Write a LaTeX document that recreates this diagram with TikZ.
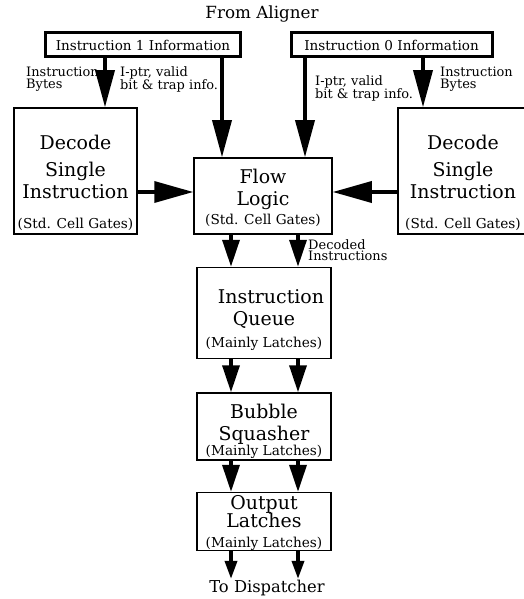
\documentclass[tikz,border=0pt]{standalone}
\usepackage{fontspec}
\setmainfont{DejaVu Serif}
\usetikzlibrary{arrows.meta,positioning}

\newcommand{\gatefont}{\fontsize{13.7}{14}\selectfont}

\tikzset{
  unitbox/.style={draw, line width=1.5bp, align=center, inner sep=0pt, font=\fontsize{19}{22}\selectfont},
  infobox/.style={draw, line width=3bp, minimum height=24bp, inner sep=0pt, font=\fontsize{13.6}{14}\selectfont},
  siglabel/.style={anchor=north west, align=left, inner sep=0pt, font=\fontsize{13}{12}\selectfont},
  bigarr/.style={line width=3.5bp, -{Triangle[length=37bp,width=19bp]}},
  sidearr/.style={line width=3.5bp, -{Triangle[length=39bp,width=21bp]}},
  midarr/.style={line width=3.5bp, -{Triangle[length=27bp,width=17bp]}},
  outarr/.style={line width=3.5bp, -{Triangle[length=18bp,width=12bp]}},
}

\begin{document}
\begin{tikzpicture}[x=1bp,y=-1bp]
  \useasboundingbox (0,0) rectangle (524,599);
  \clip (0,0) rectangle (524,599);

  %% inputs from the aligner
  \node[font=\fontsize{16.8}{17}\selectfont] (from) at (262,14) {From Aligner};
  \node[infobox, minimum width=194bp] (i1) at (143,45) {Instruction 1 Information};
  \node[infobox, minimum width=201bp] (i0) at (391.5,45) {Instruction 0 Information};

  %% decode and flow
  \node[unitbox, minimum width=123bp, minimum height=126bp] (dl) at (75.5,171)
    {\rule{0pt}{38bp}Decode\\[6bp]Single\\Instruction\\[8bp]{\gatefont (Std. Cell Gates)}};
  \node[unitbox, minimum width=130bp, minimum height=126bp] (dr) at (463,171)
    {\rule{0pt}{38bp}Decode\\[6bp]Single\\Instruction\\[8bp]{\gatefont (Std. Cell Gates)}};
  \node[unitbox, minimum width=138bp, minimum height=76bp] (flow) at (263,196)
    {\rule{0pt}{18bp}Flow\\Logic\\[-3bp]{\gatefont (Std. Cell Gates)}};

  %% queue and latches
  \node[unitbox, minimum width=134bp, minimum height=91bp] (iq) at (264,313)
    {\rule{0pt}{28bp}\hspace*{14bp}Instruction\\Queue\\{\gatefont (Mainly Latches)}};
  \node[unitbox, minimum width=134bp, minimum height=67bp] (bs) at (264,426.5)
    {\rule{0pt}{24bp}Bubble\\Squasher\\[-7bp]{\gatefont (Mainly Latches)}};
  \node[unitbox, minimum width=134bp, minimum height=57bp] (ol) at (264,521.5)
    {\rule{0pt}{17bp}Output\\[-4bp]Latches\\[-2bp]{\gatefont (Mainly Latches)}};
  \node[font=\fontsize{16.4}{17}\selectfont, inner sep=1bp] (to) at (267,588) {To Dispatcher};

  %% signal labels
  \node[siglabel] (bytesl) at (26,67) {Instruction\\Bytes};
  \node[siglabel] (ptrl) at (120,66) {I-ptr, valid\\bit \& trap info.};
  \node[siglabel] (ptrr) at (315,75) {I-ptr, valid\\bit \& trap info.};
  \node[siglabel] (bytesr) at (440,67) {Instruction\\Bytes};
  \node[siglabel] (dec) at (308,239) {Decoded\\Instructions};

  %% connectors
  \coordinate (xa) at (105,0);
  \coordinate (xb) at (222,0);
  \coordinate (xc) at (305,0);
  \coordinate (xd) at (423,0);
  \coordinate (xe) at (231,0);
  \coordinate (xf) at (298,0);
  \coordinate (yh) at (0,192);

  \draw[bigarr] (i1.south -| xa) -- (dl.north -| xa);
  \draw[bigarr] (i1.south -| xb) -- (flow.north -| xb);
  \draw[bigarr] (i0.south -| xc) -- (flow.north -| xc);
  \draw[bigarr] (i0.south -| xd) -- (dr.north -| xd);
  \draw[sidearr] (dl.east |- yh) -- (flow.west |- yh);
  \draw[sidearr] (dr.west |- yh) -- (flow.east |- yh);

  \foreach \a/\b in {flow/iq, iq/bs, bs/ol} {
    \draw[midarr] (\a.south -| xe) -- (\b.north -| xe);
    \draw[midarr] (\a.south -| xf) -- (\b.north -| xf);
  }
  \draw[outarr] (ol.south -| xe) -- (to.north -| xe);
  \draw[outarr] (ol.south -| xf) -- (to.north -| xf);
\end{tikzpicture}
\end{document}
